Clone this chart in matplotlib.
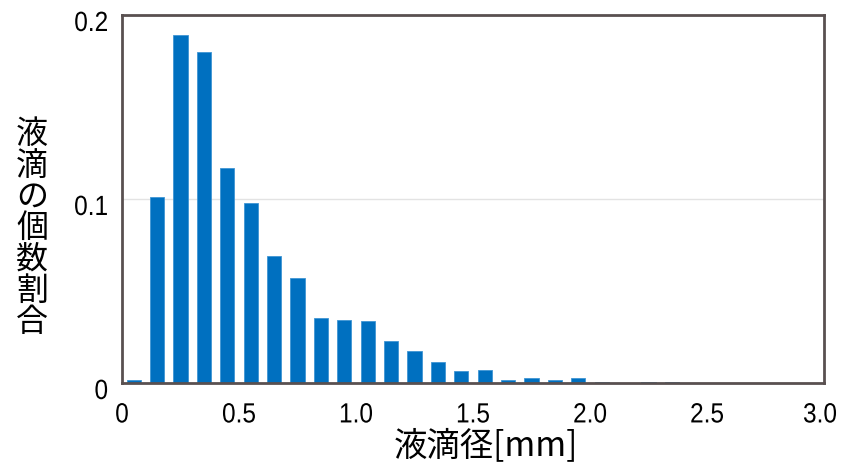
import matplotlib
matplotlib.use("Agg")
import matplotlib.pyplot as plt
import matplotlib.transforms as mtransforms
from matplotlib.patheffects import AbstractPathEffect
import numpy as np

plt.rcParams['font.family'] = ['Noto Sans CJK JP', 'DejaVu Sans']

# Data
diameters = [0.05, 0.15, 0.25, 0.35, 0.45, 0.55, 0.65, 0.75, 0.85, 0.95,
             1.05, 1.15, 1.25, 1.35, 1.45, 1.55, 1.65, 1.75, 1.85, 1.95,
             2.05, 2.15, 2.25, 2.35, 2.45, 2.55, 2.65, 2.75, 2.85, 2.95]
fractions = [0.0015, 0.101, 0.189, 0.180, 0.117, 0.098, 0.069, 0.057, 0.0355, 0.0345,
             0.0335, 0.023, 0.0175, 0.0115, 0.0065, 0.007, 0.0015, 0.0025, 0.0015, 0.0025,
             0.0004, 0.0, 0.0003, 0.0003, 0.0, 0.0, 0.0, 0.0, 0.0, 0.0]
x_ticks = [0, 0.5, 1.0, 1.5, 2.0, 2.5, 3.0]
x_tick_labels = ["0", "0.5", "1.0", "1.5", "2.0", "2.5", "3.0"]
y_ticks = [0, 0.1, 0.2]
y_tick_labels = ["0", "0.1", "0.2"]
x_label = "液滴径[mm]"
y_label = "液滴の個数割合"

SX = 0.88


class Squeeze(AbstractPathEffect):
    """Draw text horizontally narrowed (condensed look)."""
    def __init__(self, sx=0.85, sy=1.0):
        super().__init__()
        self.sx, self.sy = sx, sy

    def draw_path(self, renderer, gc, tpath, affine, rgbFace=None):
        renderer.draw_path(gc, tpath, mtransforms.Affine2D().scale(self.sx, self.sy) + affine, rgbFace)


fig = plt.figure(figsize=(8.44, 4.65), dpi=100)
ax = fig.add_axes([122/844, 1 - 383/465, (824-122)/844, (383-15)/465])

ax.bar(diameters, fractions, width=0.06, color="#0070C0",
       edgecolor="#3f95d4", linewidth=0.6, zorder=3)

ax.set_xlim(0, 3.0)
ax.set_ylim(0, 0.2)
ax.set_xticks(x_ticks)
ax.set_xticklabels(x_tick_labels)
ax.set_yticks(y_ticks)
ax.set_yticklabels(y_tick_labels)
ax.tick_params(axis='both', length=0, colors='black', labelsize=20)
ax.tick_params(axis='x', pad=14)
ax.tick_params(axis='y', pad=10)
for lbl in ax.get_xticklabels() + ax.get_yticklabels():
    lbl.set_family(['Liberation Sans', 'DejaVu Sans'])

fig.canvas.draw()
xticks_objs = ax.xaxis.get_major_ticks()
for i, tick in enumerate(xticks_objs):
    lbl = tick.label1
    lbl.set_path_effects([Squeeze(SX, 1.0)])
    w = lbl.get_window_extent().width
    dx = w * (1 - SX) / 2
    if i == len(xticks_objs) - 1:
        dx -= 4
    lbl.set_transform(lbl.get_transform() + mtransforms.ScaledTranslation(dx / 100, 0, fig.dpi_scale_trans))

for tick in ax.yaxis.get_major_ticks():
    lbl = tick.label1
    lbl.set_path_effects([Squeeze(SX, 1.0)])
    w = lbl.get_window_extent().width
    dx = w * (1 - SX)
    lbl.set_transform(lbl.get_transform() + mtransforms.ScaledTranslation(dx / 100, -6/100, fig.dpi_scale_trans))

ax.yaxis.grid(True, color="#e3e3e3", linewidth=1.0, zorder=0)
ax.xaxis.grid(False)
for sp in ax.spines.values():
    sp.set_color("#595050")
    sp.set_linewidth(2.0)
    sp.set_zorder(4)

fig.text(486/844, 1 - 446/465, x_label, ha='center', va='center', fontsize=24)
fig.text(32/844, 1 - 228/465, "\n".join(y_label), ha='center', va='center',
         fontsize=23, linespacing=0.97)

fig.savefig("out.png", dpi=100)
